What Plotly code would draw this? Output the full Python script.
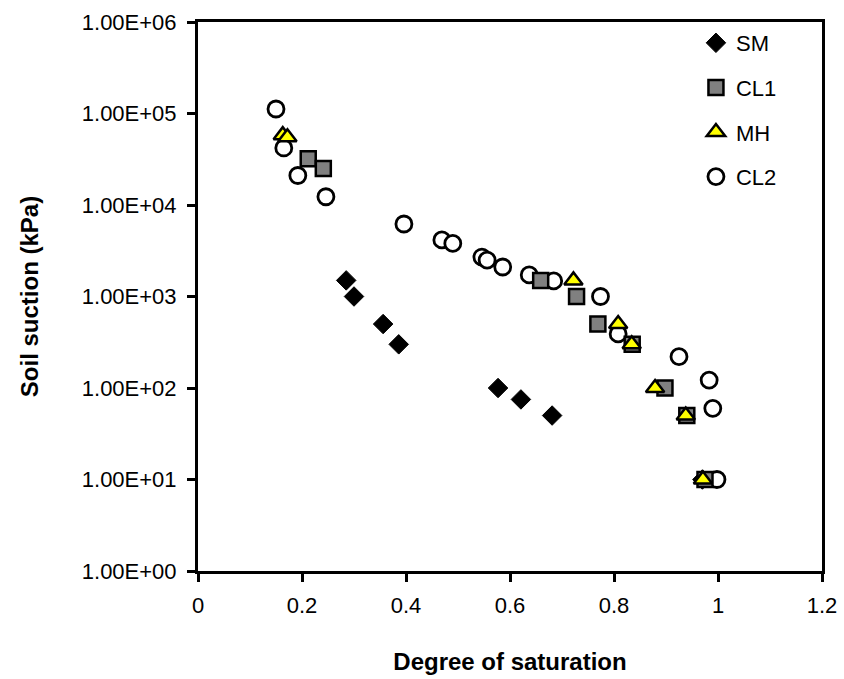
import plotly.graph_objects as go

# Degree of saturation (x) and soil suction in kPa (y) for each soil
sm_sat = [0.285, 0.300, 0.356, 0.386, 0.577, 0.621, 0.681, 0.970]
sm_suction = [1500, 1000, 500, 300, 100, 75, 50, 10]

cl1_sat = [0.212, 0.241, 0.659, 0.728, 0.769, 0.835, 0.898, 0.940, 0.975]
cl1_suction = [32000, 25000, 1500, 1000, 500, 300, 100, 50, 10]

mh_sat = [0.163, 0.172, 0.722, 0.808, 0.834, 0.879, 0.938, 0.971]
mh_suction = [58000, 55000, 1500, 500, 300, 100, 50, 10]

cl2_sat = [0.150, 0.165, 0.192, 0.246, 0.396, 0.469, 0.490, 0.546, 0.556,
           0.586, 0.637, 0.684, 0.774, 0.808, 0.925, 0.983, 0.990, 0.998]
cl2_suction = [112000, 42000, 21000, 12300, 6200, 4150, 3800, 2700, 2500,
               2100, 1720, 1480, 1000, 390, 220, 122, 60, 10]

y_tick_vals = [1, 10, 100, 1000, 10000, 100000, 1000000]
y_tick_text = ["1.00E+00", "1.00E+01", "1.00E+02", "1.00E+03",
               "1.00E+04", "1.00E+05", "1.00E+06"]

FONT = "Liberation Sans, Arial, sans-serif"

fig = go.Figure()

# Open circles underneath, then diamonds, squares and triangles on top
fig.add_trace(go.Scatter(
    x=cl2_sat, y=cl2_suction, mode="markers", name="CL2",
    legendgroup="cl2", legendrank=4,
    marker=dict(symbol="circle", size=16, color="white",
                line=dict(color="black", width=2.8)),
))
fig.add_trace(go.Scatter(
    x=sm_sat, y=sm_suction, mode="markers", name="SM",
    legendgroup="sm", legendrank=1,
    marker=dict(symbol="diamond", size=15, color="black",
                line=dict(color="black", width=1)),
))
fig.add_trace(go.Scatter(
    x=cl1_sat, y=cl1_suction, mode="markers", name="CL1",
    legendgroup="cl1", legendrank=2,
    marker=dict(symbol="square", size=15, color="#808080",
                line=dict(color="black", width=2.5)),
))
fig.add_trace(go.Scatter(
    x=mh_sat, y=mh_suction, mode="markers", name="MH",
    legendgroup="mh", legendrank=3,
    marker=dict(symbol="triangle-up", size=16, color="#FFFF00",
                line=dict(color="black", width=2.5)),
))

fig.update_layout(
    width=844, height=679,
    margin=dict(l=198, r=22, t=22, b=108, autoexpand=False),
    paper_bgcolor="white", plot_bgcolor="white",
    font=dict(family=FONT, size=22, color="black"),
    showlegend=True,
    legend=dict(
        x=0.798, y=1.0, xanchor="left", yanchor="top",
        bgcolor="rgba(0,0,0,0)", borderwidth=0,
        font=dict(family=FONT, size=22, color="black"),
        tracegroupgap=13,
    ),
)

fig.update_xaxes(
    range=[0, 1.2], dtick=0.2, tick0=0, automargin=False,
    showgrid=False, zeroline=False,
    showline=True, linecolor="black", linewidth=3, mirror=True,
    ticks="outside", ticklen=8, tickwidth=3, tickcolor="black",
    ticklabelstandoff=5,
    tickfont=dict(family=FONT, size=22, color="black"),
    title=dict(text="<b>Degree of saturation</b>", standoff=36,
               font=dict(family=FONT, size=24, color="black")),
)

fig.update_yaxes(
    type="log", range=[0, 6], automargin=False,
    tickvals=y_tick_vals, ticktext=y_tick_text,
    showgrid=False, zeroline=False,
    showline=True, linecolor="black", linewidth=3, mirror=True,
    ticks="outside", ticklen=8, tickwidth=3, tickcolor="black",
    ticklabelstandoff=6,
    tickfont=dict(family=FONT, size=22, color="black"),
    title=dict(text="<b>Soil suction (kPa)</b>", standoff=37,
               font=dict(family=FONT, size=24, color="black")),
)

fig.write_html("out.html")
